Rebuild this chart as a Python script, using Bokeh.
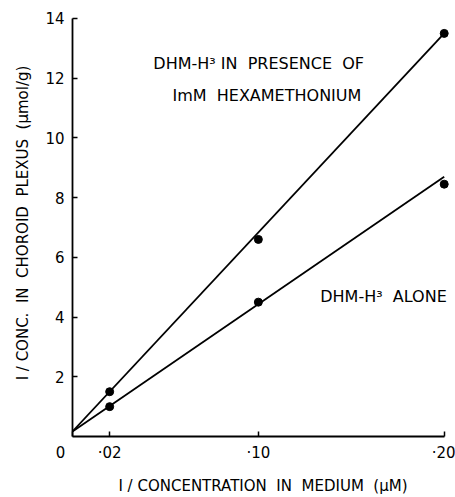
from bokeh.plotting import figure
from bokeh.models import Range1d, FixedTicker
from bokeh.core.properties import value
from bokeh.embed import file_html
from bokeh.resources import INLINE

# Data
x_conc = [0.02, 0.10, 0.20]
y_hexa = [1.5, 6.6, 13.5]      # DHM-H3 in presence of 1mM hexamethonium
y_alone = [1.0, 4.5, 8.45]     # DHM-H3 alone
line_x = [0.0, 0.20]
line_hexa = [0.17, 13.5]
line_alone = [0.17, 8.7]
x_ticks = [0, 0.02, 0.10, 0.20]
x_tick_labels = ["0" + "\u00a0" * 5, "·02", "·10", "·20"]
y_ticks = [2, 4, 6, 8, 10, 12, 14]

FONT = "DejaVu Sans"
S = "\u00a0"

p = figure(width=455, height=497, output_backend="svg", toolbar_location=None,
           x_range=Range1d(0, 0.205), y_range=Range1d(0, 14.3),
           min_border_left=72, min_border_right=2, min_border_top=9, min_border_bottom=59)
p.outline_line_color = None
p.grid.visible = False
p.background_fill_color = "white"

p.line(line_x, line_hexa, line_color="black", line_width=1.8)
p.line(line_x, line_alone, line_color="black", line_width=1.8)
p.scatter(x_conc, y_hexa, size=8, color="black")
p.scatter(x_conc, y_alone, size=8, color="black")

for ax in (p.xaxis[0], p.yaxis[0]):
    ax.axis_line_color = "black"
    ax.axis_line_width = 1.8
    ax.major_tick_in = 5
    ax.major_tick_out = 0
    ax.major_tick_line_width = 1.5
    ax.minor_tick_line_color = None
    ax.major_label_text_font = FONT
    ax.major_label_text_font_size = "15px"
    ax.major_label_text_color = "black"
    ax.axis_label_text_font = FONT
    ax.axis_label_text_font_style = "normal"
    ax.axis_label_text_font_size = "15px"
    ax.axis_label_text_color = "black"

p.xaxis.ticker = FixedTicker(ticks=x_ticks)
p.xaxis.major_label_overrides = {t: s for t, s in zip(x_ticks, x_tick_labels)}
p.xaxis.bounds = (0, 0.20)
p.xaxis.axis_label = f"I{S}/{S}CONCENTRATION{S}{S}IN{S}{S}MEDIUM{S}{S}(µM)"
p.xaxis.major_label_standoff = 7
p.xaxis.axis_label_standoff = 12

p.yaxis.ticker = FixedTicker(ticks=y_ticks)
p.yaxis.bounds = (0, 14)
p.yaxis.axis_label = f"I{S}/{S}CONC.{S}{S}IN{S}{S}CHOROID{S}{S}PLEXUS{S}{S}(µmol/g)"
p.yaxis.major_label_standoff = 8
p.yaxis.axis_label_standoff = 10

p.text(x=[0.0435, 0.0538, 0.1333], y=[12.5, 11.43, 4.7],
       text=[f"DHM-H³{S}IN{S}{S}PRESENCE{S}{S}OF", f"ImM{S}{S}HEXAMETHONIUM", f"DHM-H³{S}{S}ALONE"],
       text_font=value(FONT), text_font_size="16px", text_baseline="middle",
       text_align="left", text_color="black")

open("out.html", "w").write(file_html(p, INLINE))
